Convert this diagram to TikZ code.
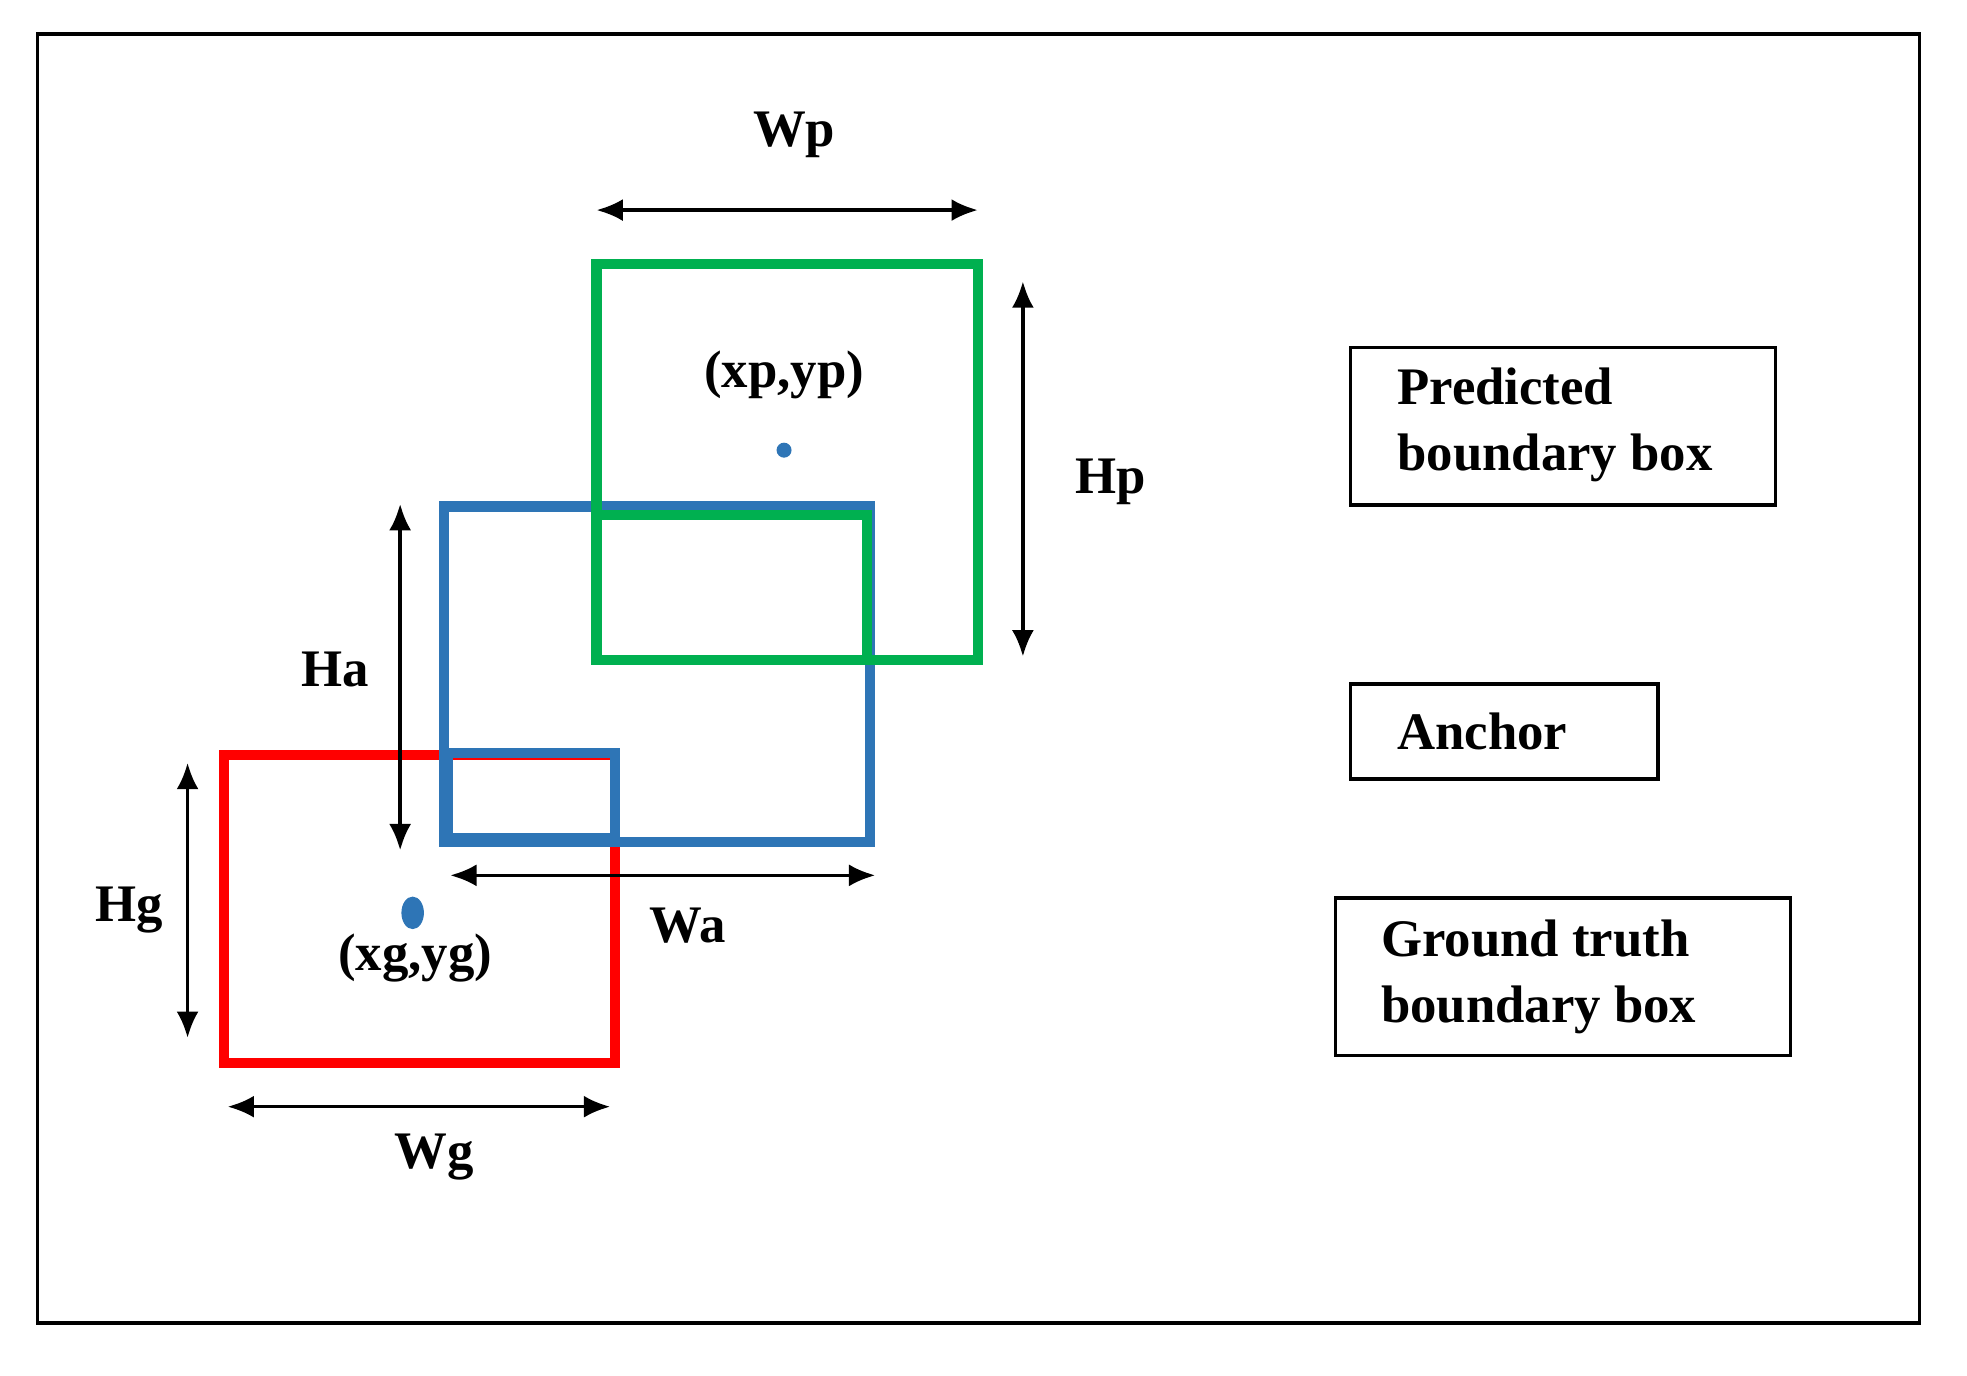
\documentclass[tikz,border=0pt]{standalone}
\usepackage{fontspec}
\setmainfont{Liberation Serif}
\usetikzlibrary{arrows.meta}
\definecolor{gr}{RGB}{0,176,80}
\definecolor{bl}{RGB}{46,117,182}
\definecolor{rd}{RGB}{255,0,0}
\begin{document}
\begin{tikzpicture}[x=0.01cm,y=-0.01cm,
  lbl/.style={font=\bfseries\fontsize{12}{15}\selectfont},
  dim/.style={line width=0.8pt,{Latex[length=6pt,width=5pt]}-{Latex[length=6pt,width=5pt]}},
  bx/.style={line width=2.3pt}]
\useasboundingbox (0,0) rectangle (1573,1100);
\draw[line width=0.9pt] (30,27) rectangle (1535,1058);
% boxes
\draw[bx,rd] (179,604) rectangle (492,850);
\draw[bx,bl] (355,405) rectangle (696,673);
\draw[bx,bl] (358,602) rectangle (492,670);
\draw[bx,gr] (477,211) rectangle (782,528);
\draw[bx,gr] (480,412) -- (693,412) -- (693,528);
% dims
\coordinate (wp1) at (477,168); \coordinate (wp2) at (782,168);
\draw[dim] (wp1) -- (wp2);
\node[lbl] (wp) at (635,108) {Wp};
\coordinate (hp1) at (818,225); \coordinate (hp2) at (818,525);
\draw[dim] (hp1) -- (hp2);
\node[lbl] (hp) at (888,385) {Hp};
\coordinate (ha1) at (320,403); \coordinate (ha2) at (320,680);
\draw[dim] (ha1) -- (ha2);
\node[lbl] (ha) at (268,535) {Ha};
\coordinate (wa1) at (360,700); \coordinate (wa2) at (700,700);
\draw[dim] (wa1) -- (wa2);
\node[lbl] (wa) at (550,740) {Wa};
\coordinate (hg1) at (150,610); \coordinate (hg2) at (150,830);
\draw[dim] (hg1) -- (hg2);
\node[lbl] (hg) at (103,728) {Hg};
\coordinate (wg1) at (182,885); \coordinate (wg2) at (488,885);
\draw[dim] (wg1) -- (wg2);
\node[lbl] (wg) at (347,925) {Wg};
% centers
\fill[bl] (627,360) circle (6);
\fill[bl] (330,730) ellipse (9 and 13);
\node[lbl] (p) at (627,300) {(xp,yp)};
\node[lbl] (g) at (332,766) {(xg,yg)};
% legend
\draw[line width=0.8pt] (1080,278) rectangle (1420,404);
\node[lbl,anchor=west,align=left] (l1) at (1105,340) {Predicted\\boundary box};
\draw[line width=0.8pt] (1080,547) rectangle (1326,623);
\node[lbl,anchor=west] (l2) at (1105,585) {Anchor};
\draw[line width=0.8pt] (1068,718) rectangle (1432,844);
\node[lbl,anchor=west,align=left] (l3) at (1092,781) {Ground truth\\boundary box};
\end{tikzpicture}
\end{document}
